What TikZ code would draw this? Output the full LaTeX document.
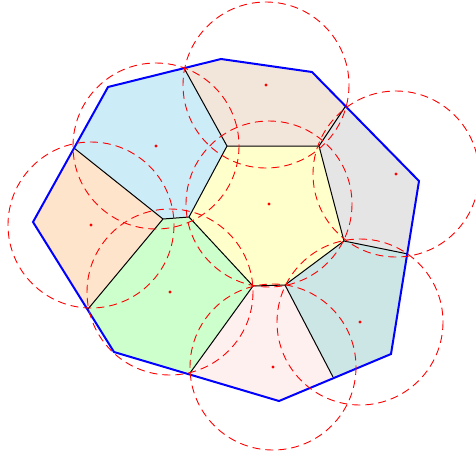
\documentclass[tikz,border=0pt]{standalone}
\begin{document}
\begin{tikzpicture}[x=1pt,y=-1pt,
  cell/.style={draw=none},
  edge/.style={draw=black,line width=1pt},
  hull/.style={draw=blue,line width=2pt,line join=miter},
  disk/.style={draw=red,line width=0.9pt,dash pattern=on 8pt off 5pt},
  site/.style={fill=red,draw=none}]
\useasboundingbox (0,0) rectangle (476,459);
% outer vertices
\coordinate (O1) at (221,59);
\coordinate (O2) at (312,72);
\coordinate (O3) at (419,181);
\coordinate (O4) at (391,354);
\coordinate (O5) at (279,401);
\coordinate (O6) at (114,352);
\coordinate (O7) at (33,222);
\coordinate (O8) at (108,87);
% boundary points
\coordinate (B1) at (184,68);
\coordinate (B2) at (345,107);
\coordinate (B3) at (408,254);
\coordinate (B4) at (333,377);
\coordinate (B5) at (190,373);
\coordinate (B6) at (88,309);
\coordinate (B7) at (74,148);
% inner vertices
\coordinate (V1) at (227,146);
\coordinate (V2) at (319,146);
\coordinate (V3) at (344,241);
\coordinate (V4) at (285,285);
\coordinate (V5) at (253,286);
\coordinate (V6) at (189,217);
\coordinate (V7) at (163,219);
% sites
\coordinate (S1) at (269,204);
\coordinate (S2) at (266,85);
\coordinate (S3) at (156,146);
\coordinate (S4) at (91,225);
\coordinate (S5) at (170,292);
\coordinate (S6) at (273,367);
\coordinate (S7) at (360,322);
\coordinate (S8) at (396,174);
% cells
\fill[cell,fill={rgb,255:red,255;green,255;blue,204}] (V1)--(V2)--(V3)--(V4)--(V5)--(V6)--cycle;
\fill[cell,fill={rgb,255:red,242;green,229;blue,218}] (B1)--(O1)--(O2)--(B2)--(V2)--(V1)--cycle;
\fill[cell,fill={rgb,255:red,204;green,236;blue,248}] (O8)--(B1)--(V1)--(V6)--(V7)--(B7)--cycle;
\fill[cell,fill={rgb,255:red,255;green,228;blue,204}] (O7)--(B7)--(V7)--(B6)--cycle;
\fill[cell,fill={rgb,255:red,204;green,255;blue,204}] (B6)--(V7)--(V6)--(V5)--(B5)--(O6)--cycle;
\fill[cell,fill={rgb,255:red,255;green,240;blue,240}] (B5)--(V5)--(V4)--(B4)--(O5)--cycle;
\fill[cell,fill={rgb,255:red,204;green,229;blue,229}] (V4)--(V3)--(B3)--(O4)--(B4)--cycle;
\fill[cell,fill={rgb,255:red,229;green,229;blue,229}] (V2)--(B2)--(O3)--(B3)--(V3)--cycle;
% edges
\draw[edge] (B1)--(V1) (V1)--(V2) (V2)--(B2) (V2)--(V3) (V3)--(B3) (V3)--(V4)
  (V4)--(B4) (V4)--(V5) (V5)--(B5) (V5)--(V6) (V6)--(V1) (V6)--(V7)
  (V7)--(B7) (V7)--(B6);
% hull
\draw[hull] (O1)--(O2)--(O3)--(O4)--(O5)--(O6)--(O7)--(O8)--cycle;
% disks
\foreach \s in {S1,S2,S3,S4,S5,S6,S7,S8} {
  \draw[disk] (\s) circle[radius=83];
  \fill[site] (\s) circle[radius=1.7];
}
\end{tikzpicture}
\end{document}
